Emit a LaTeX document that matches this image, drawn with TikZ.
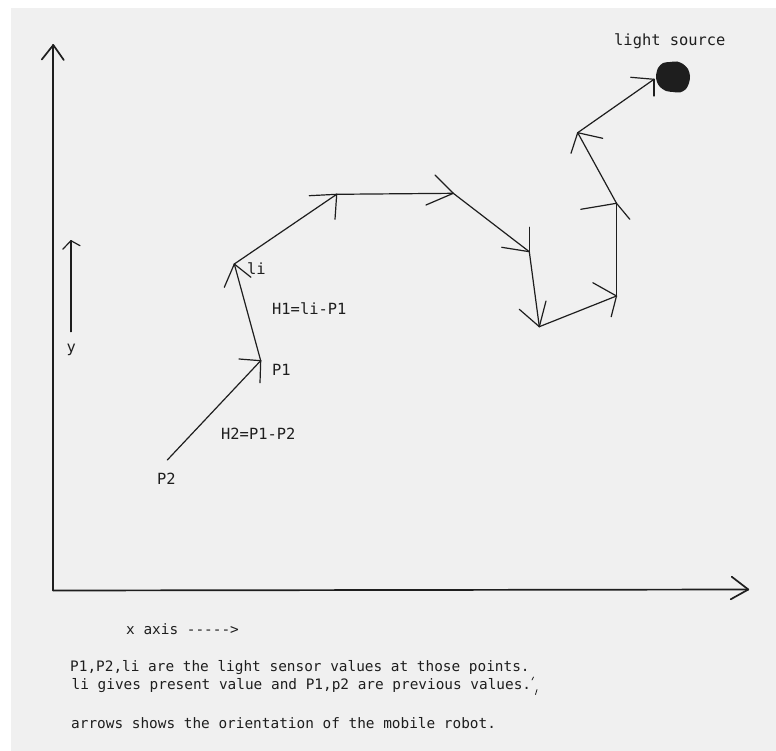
\documentclass[tikz,border=0pt]{standalone}
\usepackage{fontspec}
\setmonofont{DejaVu Sans Mono}
\definecolor{bgc}{HTML}{F0F0F0}
\definecolor{ink}{HTML}{1E1E1E}
\begin{document}
\begin{tikzpicture}[x=1pt,y=-1pt,line cap=round,line join=round,
  pathline/.style={draw=ink,line width=1.2pt},
  axisline/.style={draw=ink,line width=1.7pt},
  lbl/.style={font=\ttfamily\fontsize{15.4}{18}\selectfont,inner sep=0pt,anchor=base west,text=ink},
  note/.style={font=\ttfamily\fontsize{14.4}{17}\selectfont,inner sep=0pt,anchor=base west,text=ink}]
\useasboundingbox (0,0) rectangle (776,751);
\fill[white] (0,0) rectangle (776,751);
\fill[bgc] (11,8) rectangle (776,751);

% axes
\coordinate (O) at (53.3,590.5);
\coordinate (Ytip) at (53.3,45);
\coordinate (Xtip) at (748.3,589.5);
\draw[axisline] (O) -- (Ytip);
\draw[axisline] (Ytip) -- ++(-11.5,14.5);
\draw[axisline] (Ytip) -- ++(10.5,15);
\draw[axisline] (O) -- (Xtip);
\draw[axisline] (Xtip) -- ++(-16.6,-12.8);
\draw[axisline] (Xtip) -- ++(-17.6,9.8);

% small y arrow
\coordinate (ya) at (71,331.7);
\coordinate (yb) at (71,240.7);
\draw[pathline] (ya) -- (yb);
\draw[pathline] (yb) -- ++(-8.3,8.6);
\draw[pathline] (yb) -- ++(9,5);
\node[lbl] (ylab) at (66.5,352) {y};

% path vertices
\coordinate (P2) at (167.3,460);
\coordinate (P1) at (260.7,360.7);
\coordinate (Li) at (234.3,264);
\coordinate (Q3) at (336.7,194.3);
\coordinate (Q4) at (453.3,193.3);
\coordinate (Q5) at (529.3,251.7);
\coordinate (Q6) at (539.3,326.7);
\coordinate (Q7) at (616.5,296);
\coordinate (Q8) at (616.5,203.3);
\coordinate (Q9) at (577.7,132.7);
\coordinate (Q10) at (654,79.3);

\draw[pathline] (P2) -- (P1);
\draw[pathline] (P1) -- ++(-21.7,-1.7);
\draw[pathline] (P1) -- ++(-0.7,22);

\draw[pathline] (P1) -- (Li);
\draw[pathline] (Li) -- ++(-10,23.3);
\draw[pathline] (Li) -- ++(16.7,13.3);

\draw[pathline] (Li) -- (Q3);
\draw[pathline] (Q3) -- ++(-27.4,1.4);
\draw[pathline] (Q3) -- ++(-1.7,25);

\draw[pathline] (Q3) -- (Q4);
\draw[pathline] (Q4) -- ++(-18.3,-18.3);
\draw[pathline] (Q4) -- ++(-27.3,11.7);

\draw[pathline] (Q4) -- (Q5);
\draw[pathline] (Q5) -- ++(0,-24.4);
\draw[pathline] (Q5) -- ++(-27.6,-4.4);

\draw[pathline] (Q5) -- (Q6);
\draw[pathline] (Q6) -- ++(-20,-17.4);
\draw[pathline] (Q6) -- ++(6.7,-25.7);

\draw[pathline] (Q6) -- (Q7);
\draw[pathline] (Q7) -- ++(-23.7,-13.3);
\draw[pathline] (Q7) -- ++(-5.3,20.7);

\draw[pathline] (Q7) -- (Q8);
\draw[pathline] (Q8) -- ++(-35.7,6);
\draw[pathline] (Q8) -- ++(13.3,16);

\draw[pathline] (Q8) -- (Q9);
\draw[pathline] (Q9) -- ++(-6.7,20.6);
\draw[pathline] (Q9) -- ++(25,5.6);

\draw[pathline] (Q9) -- (Q10);
\draw[pathline] (Q10) -- ++(-23.3,-2);
\draw[pathline] (Q10) -- ++(0,16.7);

% light source blob
\fill[ink] plot[smooth cycle] coordinates {
  (656,76) (658,68) (663,63) (670,62) (677,61.5) (683,64) (688,69)
  (690,76) (689,83) (686,89) (680,92.5) (673,92) (666,91) (660,87) (657,82)};
\node[lbl] (src) at (614,46) {light source};

% labels
\node[lbl] (lilab) at (247,275) {li};
\node[lbl] (h1) at (272,314) {H1=li-P1};
\node[lbl] (p1lab) at (272,375) {P1};
\node[lbl] (h2) at (221,439.3) {H2=P1-P2};
\node[lbl] (p2lab) at (157,484) {P2};

% notes
\node[note] (xax) at (126,634) {x axis -----{}>};
\node[note] (n1) at (70,671.7) {P1,P2,li are the light sensor values at those points.};
\node[note] (n2) at (71.5,689.3) {li gives present value and P1,p2 are previous values.};
\draw[ink,line width=0.8pt] (532,680) -- (533.5,677);
\draw[ink,line width=0.8pt] (537,689.5) -- (535.5,694.5);
\node[note] (n3) at (71,728.3) {arrows shows the orientation of the mobile robot.};
\end{tikzpicture}
\end{document}
